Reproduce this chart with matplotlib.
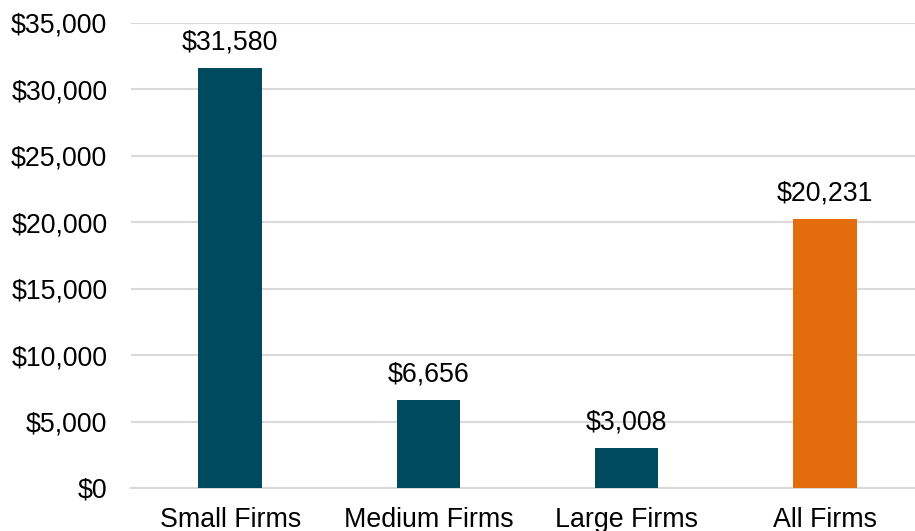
import matplotlib.pyplot as plt
from matplotlib.ticker import FuncFormatter

plt.rcParams['font.family'] = ['Liberation Sans', 'DejaVu Sans']

categories = ['Small Firms', 'Medium Firms', 'Large Firms', 'All Firms']
values = [31580, 6656, 3008, 20231]
colors = ['#004A60', '#004A60', '#004A60', '#E36C0D']

fig = plt.figure(figsize=(9.15, 5.31), dpi=100)
# plot area runs a little past the right edge, as in the original crop
ax = fig.add_axes([131 / 915, 1 - 488 / 531, (924 - 131) / 915, 465 / 531])

x = range(len(categories))
ax.bar(x, values, width=0.32, color=colors, zorder=3)

for xi, v in zip(x, values):
    ax.annotate(f'${v:,}', (xi, v), xytext=(0, 9), textcoords='offset points',
                ha='center', va='bottom', fontsize=19.3, color='#000000')

ax.set_xlim(-0.5, 3.5)
ax.set_ylim(0, 35000)
ax.set_yticks(range(0, 35001, 5000))
ax.yaxis.set_major_formatter(FuncFormatter(lambda v, p: f'${v:,.0f}'))
ax.set_xticks(list(x))
ax.set_xticklabels(categories)

ax.grid(axis='y', color='#D9D9D9', linewidth=1.5, zorder=0)
ax.tick_params(axis='both', length=0, labelsize=19.3, colors='#000000')
ax.tick_params(axis='y', pad=17)
ax.tick_params(axis='x', pad=14)
for s in ['top', 'right', 'left']:
    ax.spines[s].set_visible(False)
ax.spines['bottom'].set_color('#D9D9D9')
ax.spines['bottom'].set_linewidth(1.5)

fig.savefig('out.png', dpi=100)
